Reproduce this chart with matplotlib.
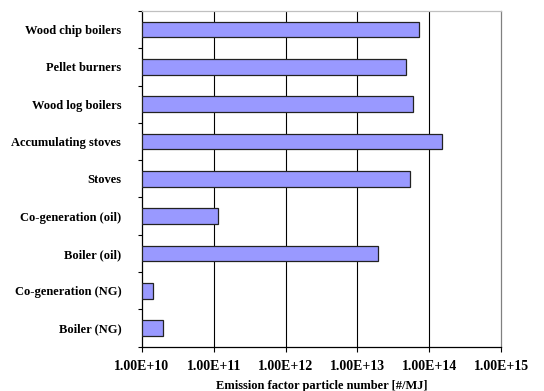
import numpy as np
import matplotlib.pyplot as plt
from matplotlib.ticker import FixedLocator, FuncFormatter

categories = ["Wood chip boilers", "Pellet burners", "Wood log boilers",
              "Accumulating stoves", "Stoves", "Co-generation (oil)",
              "Boiler (oil)", "Co-generation (NG)", "Boiler (NG)"]
emission = [7.3e13, 4.7e13, 6.0e13, 1.52e14, 5.4e13, 1.13e11, 1.96e13, 1.44e10, 1.94e10]
decades = [1e10, 1e11, 1e12, 1e13, 1e14, 1e15]

plt.rcParams['font.family'] = ['Liberation Serif', 'DejaVu Serif']
plt.rcParams['font.weight'] = 'bold'

fig = plt.figure(figsize=(5.44, 3.91), dpi=100)
ax = fig.add_axes([0.261, 0.1135, 0.66, 0.8585])

base = decades[0]
y = np.arange(len(categories))[::-1]
ax.barh(y, np.array(emission) - base, left=base, height=0.42,
        color="#9999ff", edgecolor="#222222", linewidth=0.9, zorder=3)

ax.set_xscale("log")
ax.set_xlim(decades[0], decades[-1])
ax.set_ylim(-0.5, len(categories) - 0.5)

ax.xaxis.set_major_locator(FixedLocator(decades))
ax.xaxis.set_minor_locator(FixedLocator([]))
ax.xaxis.set_major_formatter(FuncFormatter(lambda v, p: f"{v:.2E}"))
ax.tick_params(axis="x", direction="out", length=3.5, width=0.8, pad=6,
               labelsize=10, color="black")
for lab in ax.get_xticklabels():
    lab.set_fontweight("bold")

# category labels at centres, tick marks at the boundaries
ax.set_yticks(y)
ax.set_yticklabels(categories, fontsize=9, fontweight="bold")
ax.set_yticks(np.arange(len(categories) + 1) - 0.5, minor=True)
ax.tick_params(axis="y", which="major", length=0, pad=15)
ax.tick_params(axis="y", which="minor", direction="out", length=3, width=0.8)

for d in decades[1:-1]:
    ax.axvline(d, color="black", linewidth=0.8, zorder=1)

ax.spines["left"].set_color("black")
ax.spines["bottom"].set_color("black")
ax.spines["top"].set_color("#c0c0c0")
ax.spines["right"].set_color("#808080")
for s in ax.spines.values():
    s.set_linewidth(0.9)

ax.set_xlabel("Emission factor particle number [#/MJ]", fontsize=9,
              fontweight="bold", labelpad=5)

fig.savefig("out.png", dpi=100)
